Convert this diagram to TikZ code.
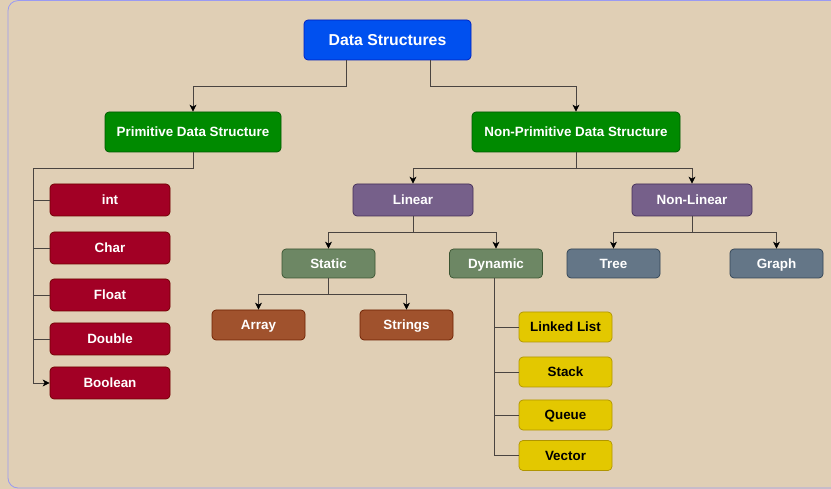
\documentclass[tikz,border=0pt]{standalone}
\usepackage{fontspec}
\setmainfont{Liberation Sans}
\usetikzlibrary{arrows.meta}

\definecolor{bgtan}{HTML}{E0CFB5}
\definecolor{framecol}{HTML}{9A9AF2}
\definecolor{edgecol}{HTML}{4A4440}
\definecolor{topfill}{HTML}{0050EF}
\definecolor{topline}{HTML}{001DBC}
\definecolor{kindfill}{HTML}{008A00}
\definecolor{kindline}{HTML}{005700}
\definecolor{primfill}{HTML}{A20025}
\definecolor{primline}{HTML}{6F0000}
\definecolor{linfill}{HTML}{76608A}
\definecolor{linline}{HTML}{432D57}
\definecolor{subfill}{HTML}{6D8764}
\definecolor{subline}{HTML}{3A5431}
\definecolor{arrfill}{HTML}{A0522D}
\definecolor{arrline}{HTML}{6D1F00}
\definecolor{dynfill}{HTML}{E3C800}
\definecolor{dynline}{HTML}{B09500}
\definecolor{nlfill}{HTML}{647687}
\definecolor{nlline}{HTML}{314354}

\tikzset{
  box/.style={rounded corners=4pt, line width=0.7pt, inner sep=0pt,
    text height=9.6pt, text depth=0pt,
    font=\bfseries\fontsize{13.4}{16}\selectfont, text=white},
  topbox/.style={box, fill=topfill, draw=topline, minimum width=167pt,
    minimum height=40pt, text height=11.3pt, font=\bfseries\fontsize{15.8}{19}\selectfont},
  kindbox/.style={box, fill=kindfill, draw=kindline, minimum height=40pt},
  primbox/.style={box, fill=primfill, draw=primline, minimum width=120pt, minimum height=32pt},
  linbox/.style={box, fill=linfill, draw=linline, minimum width=120pt, minimum height=32pt},
  subbox/.style={box, fill=subfill, draw=subline, minimum width=93pt, minimum height=29pt},
  arrbox/.style={box, fill=arrfill, draw=arrline, minimum width=93pt, minimum height=30pt},
  dynbox/.style={box, fill=dynfill, draw=dynline, minimum width=93pt, minimum height=30pt, text=black},
  nlbox/.style={box, fill=nlfill, draw=nlline, minimum width=93pt, minimum height=29pt},
  link/.style={draw=edgecol, line width=0.8pt},
  arr/.style={link, -{Stealth[length=7pt,width=7pt,inset=2pt,black]}}
}

\begin{document}
\begin{tikzpicture}[x=1pt,y=-1pt]
  \fill[bgtan] (0,0) rectangle (831,489);
  \useasboundingbox (0,0) rectangle (831,489);
  \begin{scope}
    \clip (0,0) rectangle (831,489);
    \draw[framecol, line width=0.8pt, rounded corners=10pt] (8,0.6) rectangle (860,488);
  \end{scope}

  % top levels
  \node[topbox] (ds) at (387.5,40) {Data Structures};
  \node[kindbox, minimum width=176pt] (prim) at (193,132) {Primitive Data Structure};
  \node[kindbox, minimum width=208pt] (nonprim) at (576,132) {Non-Primitive Data Structure};

  % primitive types
  \node[primbox] (int) at (110,200) {int};
  \node[primbox] (char) at (110,248) {Char};
  \node[primbox] (float) at (110,295) {Float};
  \node[primbox] (double) at (110,339) {Double};
  \node[primbox] (bool) at (110,383) {Boolean};

  % non-primitive types
  \node[linbox] (lin) at (413,200) {Linear};
  \node[linbox] (nonlin) at (692,200) {Non-Linear};
  \node[subbox] (static) at (328.5,263.5) {Static};
  \node[subbox] (dynamic) at (496,263.5) {Dynamic};
  \node[nlbox] (tree) at (613.5,263.5) {Tree};
  \node[nlbox] (graph) at (776.5,263.5) {Graph};
  \node[arrbox] (array) at (258.5,325) {Array};
  \node[arrbox] (strings) at (406.5,325) {Strings};
  \node[dynbox] (llist) at (565.5,327) {Linked List};
  \node[dynbox] (stack) at (565.5,372) {Stack};
  \node[dynbox] (queue) at (565.5,415) {Queue};
  \node[dynbox] (vector) at (565.5,455.5) {Vector};

  % connectors
  \draw[arr] ([xshift=-41.5pt]ds.south) -- ++(0,26) -| (prim.north);
  \draw[arr] ([xshift=42.5pt]ds.south) -- ++(0,26) -| (nonprim.north);

  \draw[arr] (prim.south) -- ++(0,16) -| ([xshift=-16pt]bool.west) -- (bool.west);
  \foreach \n in {int,char,float,double}
    \draw[link] (\n.west) -- ++(-16pt,0);

  \draw[arr] (nonprim.south) -- ++(0,16) -| (lin.north);
  \draw[arr] (nonprim.south) -- ++(0,16) -| (nonlin.north);
  \draw[arr] (lin.south) -- ++(0,16) -| (static.north);
  \draw[arr] (lin.south) -- ++(0,16) -| (dynamic.north);
  \draw[arr] (nonlin.south) -- ++(0,16) -| (tree.north);
  \draw[arr] (nonlin.south) -- ++(0,16) -| (graph.north);
  \draw[arr] (static.south) -- ++(0,16) -| (array.north);
  \draw[arr] (static.south) -- ++(0,16) -| (strings.north);

  \draw[link] ([xshift=-2pt]dynamic.south) |- (vector.west);
  \foreach \n in {llist,stack,queue}
    \draw[link] (\n.west) -- ++(-25pt,0);
\end{tikzpicture}
\end{document}
